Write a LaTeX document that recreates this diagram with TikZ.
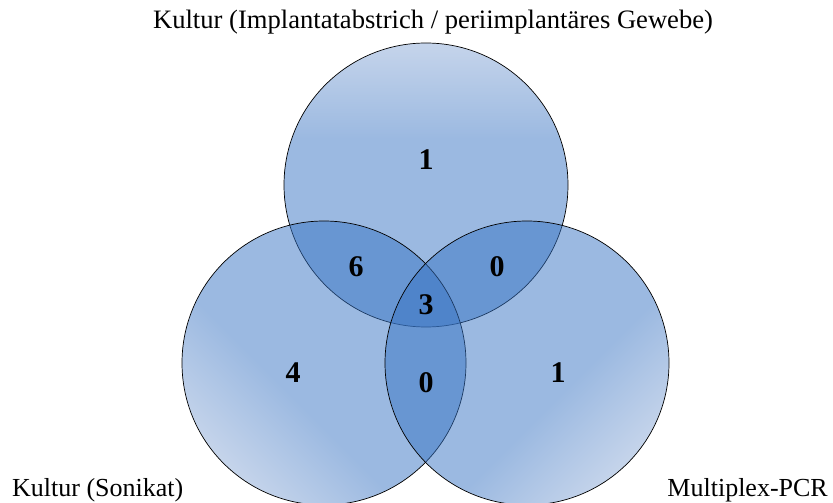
\documentclass[tikz,border=0pt]{standalone}
\usepackage{fontspec}
\setmainfont{Liberation Serif}
\definecolor{vbase}{RGB}{55,115,195}
\definecolor{vlight}{RGB}{140,170,215}
% light rim on one side, fading into the base blue
\pgfdeclareverticalshading{vennfade}{100bp}{color(0bp)=(vlight); color(25bp)=(vlight); color(42bp)=(vbase); color(100bp)=(vbase)}
\begin{document}
\begin{tikzpicture}[x=1pt,y=-1pt,
  setcircle/.style={circle, draw=black, line width=0.7pt, minimum size=284pt,
    inner sep=0pt, shading=vennfade, fill opacity=0.5},
  count/.style={font=\fontsize{30}{30}\selectfont\bfseries},
  setlabel/.style={font=\fontsize{26}{30}\selectfont}]
\useasboundingbox (0,0) rectangle (833,503);
\begin{scope}
\clip (0,0) rectangle (833,503);
\node[setcircle, shading angle=180] (top) at (426,185) {};
\node[setcircle, shading angle=-45] (left) at (324,363) {};
\node[setcircle, shading angle=45] (right) at (527,363) {};
\end{scope}
% region counts
\node[count] (nA) at (426,160) {1};
\node[count] (nAB) at (356,267) {6};
\node[count] (nAC) at (497,267) {0};
\node[count] (nABC) at (426,305) {3};
\node[count] (nB) at (293,373) {4};
\node[count] (nBC) at (426,383) {0};
\node[count] (nC) at (558,373) {1};
% set names
\node[setlabel, font=\fontsize{26.6}{30}\selectfont] (lA) at (433,22) {Kultur (Implantatabstrich / periimplantäres Gewebe)};
\node[setlabel, anchor=west, inner sep=0pt] (lB) at (12,490) {Kultur (Sonikat)};
\node[setlabel, anchor=east, inner sep=0pt] (lC) at (828,490) {Multiplex-PCR};
\end{tikzpicture}
\end{document}
